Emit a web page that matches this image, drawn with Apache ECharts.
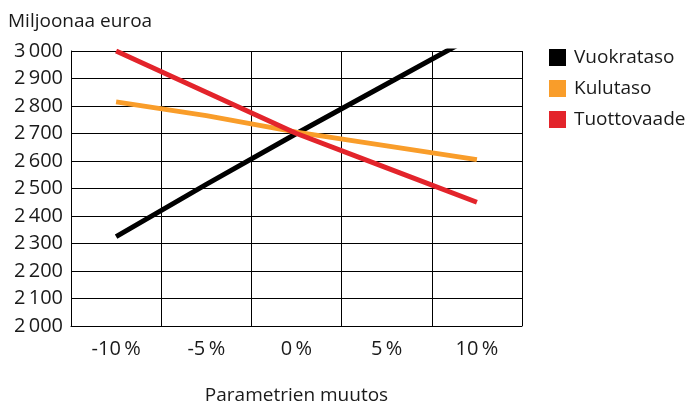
<!DOCTYPE html>
<html><head><meta charset="utf-8">
<script src="https://cdn.jsdelivr.net/npm/echarts@6/dist/echarts.min.js"></script>
<style>html,body{margin:0;padding:0;background:#fff}#c{width:689px;height:403px}</style>
</head><body><div id="c"></div>
<script>
const categories = ['-10\u2009%', '-5\u2009%', '0\u2009%', '5\u2009%', '10\u2009%'];
const vuokrataso = [2325, 2515, 2700, 2880, 3060];
const kulutaso = [2815, 2765, 2705, 2655, 2605];
const tuottovaade = [3000, 2850, 2700, 2575, 2450];
const seriesNames = ['Vuokrataso', 'Kulutaso', 'Tuottovaade'];
const colors = ['#000000', '#f99d2a', '#e3242b'];
const yTitle = 'Miljoonaa euroa';
const xTitle = 'Parametrien muutos';

const font = 'Open Sans';
const chart = echarts.init(document.getElementById('c'));
chart.setOption({
  animation: false,
  title: { text: yTitle, left: 3, top: 7, textStyle: { fontFamily: font, fontWeight: 'normal', fontSize: 19, color: '#1a1a1a' } },
  legend: {
    orient: 'vertical', left: 544, top: 43, itemWidth: 17, itemHeight: 17, itemGap: 12,
    icon: 'rect',
    textStyle: { fontFamily: font, fontSize: 19, color: '#1a1a1a', padding: [0, 0, 0, 3] },
    data: seriesNames
  },
  grid: { left: 71, right: 167, top: 51, bottom: 77, containLabel: false, outerBoundsMode: 'none' },
  xAxis: {
    type: 'category', data: categories, boundaryGap: true,
    name: xTitle, nameLocation: 'middle', nameGap: 60,
    nameTextStyle: { fontFamily: font, fontSize: 19, color: '#1a1a1a' },
    axisLine: { lineStyle: { color: '#000', width: 1 } },
    axisTick: { show: false },
    axisLabel: { fontFamily: font, fontSize: 20, color: '#1a1a1a', margin: 13 },
    splitLine: { show: true, lineStyle: { color: '#000', width: 1 } }
  },
  yAxis: {
    type: 'value', min: 2000, max: 3000, interval: 100,
    axisLine: { show: true, lineStyle: { color: '#000', width: 1 } },
    axisTick: { show: false },
    axisLabel: { fontFamily: font, fontSize: 20, color: '#1a1a1a', margin: 8,
      formatter: v => { const s = String(v); return s.slice(0, 1) + '\u2009' + s.slice(1); } },
    splitLine: { show: true, lineStyle: { color: '#000', width: 1 } }
  },
  series: seriesNames.map((n, i) => ({
    name: n, type: 'line', data: [vuokrataso, kulutaso, tuottovaade][i],
    color: colors[i], symbol: 'none', clip: true,
    lineStyle: { width: 5, color: colors[i], cap: 'butt' }
  }))
});
</script></body></html>
